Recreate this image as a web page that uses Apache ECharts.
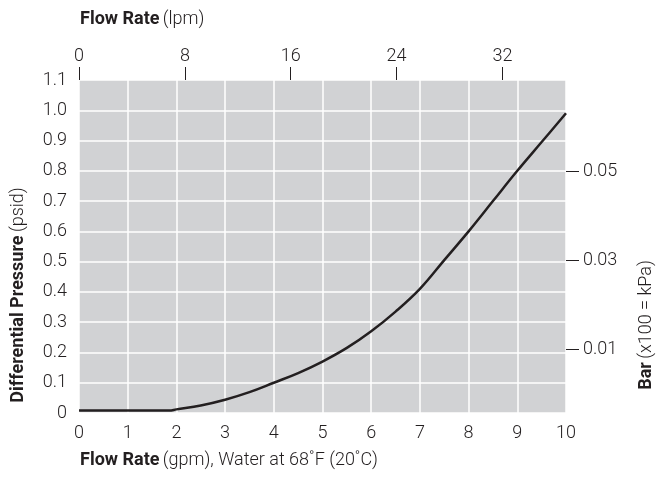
<!DOCTYPE html>
<html>
<head>
<meta charset="utf-8">
<title>Differential Pressure vs Flow Rate</title>
<script src="https://cdn.jsdelivr.net/npm/echarts@6/dist/echarts.min.js"></script>
<style>
  html, body { margin: 0; padding: 0; background: #fff; }
  #chart { width: 656px; height: 477px; }
</style>
</head>
<body>
<div id="chart"></div>
<script>
// flow rate in gpm and pressure drop in psid
const gpm = [0, 0.5, 1, 1.5, 1.85, 2, 2.5, 3, 3.5, 4, 4.5, 5, 5.5, 6, 6.5, 7, 7.5, 8, 8.5, 9, 9.5, 10];
const psid = [0.008, 0.008, 0.008, 0.008, 0.008, 0.012, 0.025, 0.044, 0.069, 0.1, 0.132, 0.17, 0.215, 0.27, 0.335, 0.41, 0.505, 0.6, 0.7, 0.8, 0.895, 0.99];

// secondary scales (top lpm, right bar)
const lpmTicks = [0, 8, 16, 24, 32];
const barTicks = [0.01, 0.03, 0.05];

const font = 'Roboto, "Liberation Sans", sans-serif';
const ink = '#231f20';

const myChart = echarts.init(document.getElementById('chart'));

//曲线数据
const points = gpm.map((g, i) => [g, psid[i]]);

myChart.setOption({
  animation: false,
  grid: {
    left: 79,
    right: 90,
    top: 80,
    bottom: 64,
    show: true,
    backgroundColor: '#d1d2d4',
    borderWidth: 0
  },
  xAxis: [
    {
      type: 'value',
      position: 'bottom',
      min: 0,
      max: 10,
      interval: 1,
      axisLine: { show: false, onZero: false },
      axisTick: { show: false },
      axisLabel: { margin: 11, fontSize: 18, fontFamily: font, fontWeight: 300, color: ink },
      splitLine: { show: true, lineStyle: { color: '#ffffff', width: 1.5 } }
    },
    {
      type: 'value',
      position: 'top',
      min: 0,
      max: 36.8,
      axisLine: { show: false, onZero: false },
      axisTick: { show: true, length: 13, customValues: lpmTicks, lineStyle: { color: ink, width: 1 } },
      axisLabel: { margin: 15, fontSize: 18, fontFamily: font, fontWeight: 300, color: ink, customValues: lpmTicks },
      splitLine: { show: false }
    }
  ],
  yAxis: [
    {
      type: 'value',
      position: 'left',
      min: 0,
      max: 1.1,
      interval: 0.1,
      axisLine: { show: false, onZero: false },
      axisTick: { show: false },
      axisLabel: {
        margin: 12,
        fontSize: 18,
        fontFamily: font,
        fontWeight: 300,
        color: ink,
        formatter: v => (v === 0 ? '0' : v.toFixed(1))
      },
      splitLine: { show: true, lineStyle: { color: '#ffffff', width: 1.5 } }
    },
    {
      type: 'value',
      position: 'right',
      min: -0.0043,
      max: 0.0705,
      axisLine: { show: false, onZero: false },
      axisTick: { show: true, length: 13, customValues: barTicks, lineStyle: { color: ink, width: 1 } },
      axisLabel: {
        margin: 17,
        fontSize: 18,
        fontFamily: font,
        fontWeight: 300,
        color: ink,
        customValues: barTicks,
        formatter: v => v.toFixed(2)
      },
      splitLine: { show: false }
    }
  ],
  graphic: [
    {
      type: 'text',
      left: 80,
      top: 10,
      style: {
        text: '{b|Flow Rate} {r|(lpm)}',
        rich: {
          b: { fontSize: 18, fontFamily: font, fontWeight: 'bold', fill: ink },
          r: { fontSize: 18, fontFamily: font, fontWeight: 300, fill: ink }
        }
      }
    },
    {
      type: 'text',
      left: 80,
      top: 451,
      style: {
        text: '{b|Flow Rate} {r|(gpm), Water at 68˚F (20˚C)}',
        rich: {
          b: { fontSize: 18, fontFamily: font, fontWeight: 'bold', fill: ink },
          r: { fontSize: 18, fontFamily: font, fontWeight: 300, fill: ink }
        }
      }
    },
    {
      type: 'text',
      x: 18,
      y: 295,
      rotation: Math.PI / 2,
      style: {
        text: '{b|Differential Pressure} {r|(psid)}',
        align: 'center',
        verticalAlign: 'middle',
        rich: {
          b: { fontSize: 18, fontFamily: font, fontWeight: 'bold', fill: ink },
          r: { fontSize: 18, fontFamily: font, fontWeight: 300, fill: ink }
        }
      }
    },
    {
      type: 'text',
      x: 646,
      y: 325,
      rotation: Math.PI / 2,
      style: {
        text: '{b|Bar} {r|(x100 = kPa)}',
        align: 'center',
        verticalAlign: 'middle',
        rich: {
          b: { fontSize: 18, fontFamily: font, fontWeight: 'bold', fill: ink },
          r: { fontSize: 18, fontFamily: font, fontWeight: 300, fill: ink }
        }
      }
    }
  ],
  series: [
    {
      name: 'Pressure Drop',
      type: 'line',
      xAxisIndex: 0,
      yAxisIndex: 0,
      data: points,
      smooth: 0.4,
      showSymbol: false,
      lineStyle: { color: ink, width: 2.5 }
    }
  ]
});
</script>
</body>
</html>
